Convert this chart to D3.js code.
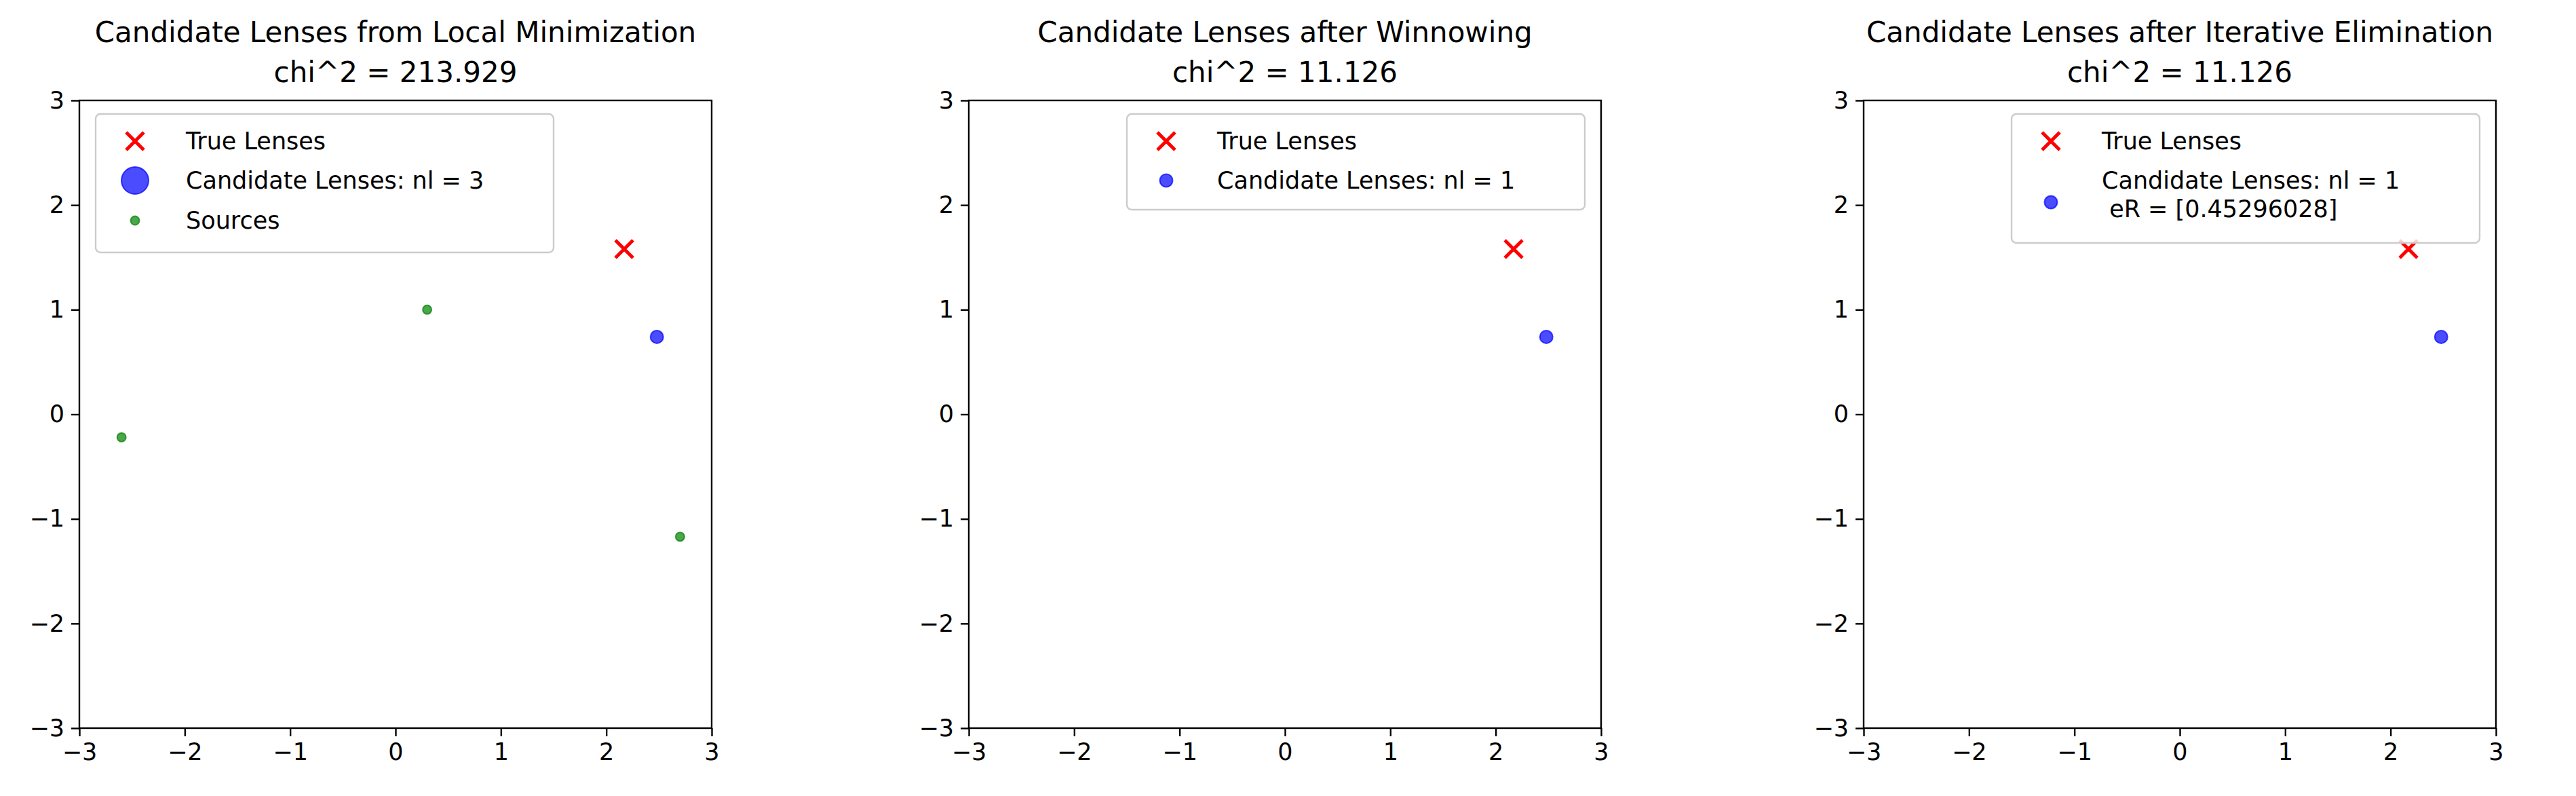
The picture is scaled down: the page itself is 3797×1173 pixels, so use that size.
<!DOCTYPE html>
<meta charset="utf-8">
<head>
<style>
body { margin: 0; background: #fff; }
text { font-family: "DejaVu Sans", sans-serif; }
</style>
</head>
<body>
<svg id="chart" width="3797" height="1173"></svg>
</body>
<script src="https://d3js.org/d3.v7.min.js"></script>
<script>

var titles = ["Candidate Lenses from Local Minimization", "Candidate Lenses after Winnowing", "Candidate Lenses after Iterative Elimination"];
var chiValues = ["213.929", "11.126", "11.126"];
var trueLenses = [[2.17, 1.58]];
var candidates = [[2.48, 0.74]];
var sources = [[-2.6, -0.22], [0.3, 1.0], [2.7, -1.17]];
var candLabels = [["Candidate Lenses: nl = 3"], ["Candidate Lenses: nl = 1"], ["Candidate Lenses: nl = 1", " eR = [0.45296028]"]];
var tickVals = [-3, -2, -1, 0, 1, 2, 3];

var svg = d3.select("#chart");
var panelLeft = [117, 1428, 2747];
var top0 = 148, bottom0 = 1073, w = 932;

for (var p = 0; p < 3; p++)
{
	var x = d3.scaleLinear().domain([-3, 3]).range([panelLeft[p], panelLeft[p] + w]);
	var y = d3.scaleLinear().domain([-3, 3]).range([bottom0, top0]);
	var g = svg.append("g");

	var xa = g.append("g").attr("transform", "translate(0," + bottom0 + ")")
		.call(d3.axisBottom(x).tickValues(tickVals).tickSize(12).tickPadding(10).tickFormat(d3.format("d")));
	var ya = g.append("g").attr("transform", "translate(" + panelLeft[p] + ",0)")
		.call(d3.axisLeft(y).tickValues(tickVals).tickSize(12).tickPadding(10).tickFormat(d3.format("d")));
	[xa, ya].forEach(function(a)
	{
		a.select(".domain").remove();
		a.selectAll("line").attr("stroke-width", 2.4);
		a.selectAll("text").style("font-size", "35px").text(function(d) { return d < 0 ? "\u2212" + (-d) : d; });
	});
	g.append("rect").attr("x", x(-3)).attr("y", y(3)).attr("width", w).attr("height", bottom0 - top0)
		.attr("fill", "none").attr("stroke", "#000").attr("stroke-width", 2.4);

	var cx = panelLeft[p] + w / 2;
	g.append("text").attr("x", cx).attr("y", 62).attr("text-anchor", "middle").style("font-size", "42px").text(titles[p]);
	g.append("text").attr("x", cx).attr("y", 121).attr("text-anchor", "middle").style("font-size", "42px").text("chi^2 = " + chiValues[p]);

	if (p == 0)
	{
		g.selectAll(".src").data(sources).enter().append("circle")
			.attr("cx", function(d) { return x(d[0]); }).attr("cy", function(d) { return y(d[1]); })
			.attr("r", 6.5).attr("fill", "green").attr("fill-opacity", 0.7).attr("stroke", "green").attr("stroke-opacity", 0.7).attr("stroke-width", 2);
	}
	g.selectAll(".cand").data(candidates).enter().append("circle")
		.attr("cx", function(d) { return x(d[0]); }).attr("cy", function(d) { return y(d[1]); })
		.attr("r", 9.5).attr("fill", "blue").attr("fill-opacity", 0.7).attr("stroke", "blue").attr("stroke-opacity", 0.7).attr("stroke-width", 2);
	g.selectAll(".tl").data(trueLenses).enter().append("path")
		.attr("transform", function(d) { return "translate(" + x(d[0]) + "," + y(d[1]) + ")"; })
		.attr("d", "M-13,-13L13,13M-13,13L13,-13").attr("stroke", "red").attr("stroke-width", 5);

	// legend
	var lw, lh, lx;
	if (p == 0) { lw = 675; lh = 204; lx = x(-3) + 24; }
	else if (p == 1) { lw = 675; lh = 141; lx = x(3) - 24 - lw; }
	else { lw = 690; lh = 190; lx = x(3) - 24 - lw; }
	var ly = top0 + 20;
	var lg = g.append("g").attr("transform", "translate(" + lx + "," + ly + ")");
	lg.append("rect").attr("width", lw).attr("height", lh).attr("rx", 7)
		.attr("fill", "#fff").attr("fill-opacity", 0.8).attr("stroke", "#ccc").attr("stroke-width", 2.4);
	var mx = 58, tx = 133;
	lg.append("path").attr("transform", "translate(" + mx + ",40)")
		.attr("d", "M-13,-13L13,13M-13,13L13,-13").attr("stroke", "red").attr("stroke-width", 5);
	lg.append("text").attr("x", tx).attr("y", 52).style("font-size", "35px").text("True Lenses");
	var cy = p == 2 ? 130 : 98;
	lg.append("circle").attr("cx", mx).attr("cy", cy).attr("r", p == 0 ? 20 : 9.5)
		.attr("fill", "blue").attr("fill-opacity", 0.7).attr("stroke", "blue").attr("stroke-opacity", 0.7).attr("stroke-width", 2);
	candLabels[p].forEach(function(t, i)
	{
		lg.append("text").attr("x", tx).attr("y", 110 + i * 42).style("font-size", "35px").style("white-space", "pre").text(t);
	});
	if (p == 0)
	{
		lg.append("circle").attr("cx", mx).attr("cy", 157).attr("r", 6.5)
			.attr("fill", "green").attr("fill-opacity", 0.7).attr("stroke", "green").attr("stroke-opacity", 0.7).attr("stroke-width", 2);
		lg.append("text").attr("x", tx).attr("y", 169).style("font-size", "35px").text("Sources");
	}
}
</script>
